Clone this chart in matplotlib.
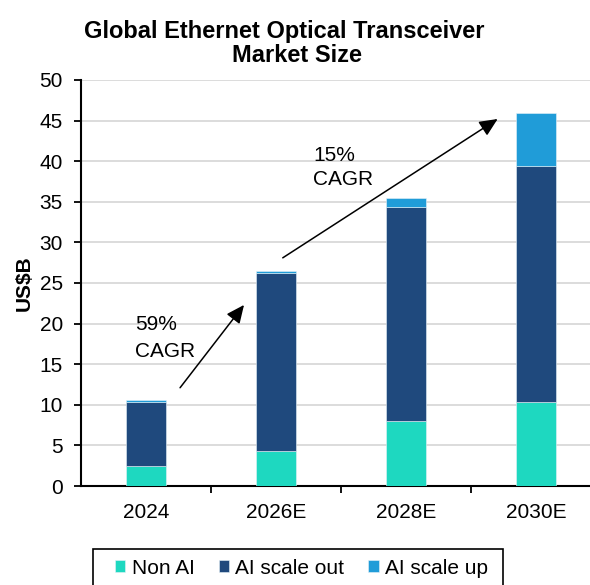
import matplotlib
matplotlib.use("Agg")
import matplotlib.pyplot as plt
from matplotlib.patches import Rectangle
import numpy as np

plt.rcParams['font.family'] = ['Liberation Sans', 'DejaVu Sans']

years = ["2024", "2026E", "2028E", "2030E"]
non_ai = [2.45, 4.3, 7.95, 10.3]
ai_scale_out = [7.85, 21.9, 26.45, 29.15]
ai_scale_up = [0.25, 0.3, 1.1, 6.45]
series_names = ["Non AI", "AI scale out", "AI scale up"]
colors = ["#1ED8C0", "#1F497D", "#209CD8"]

W, H = 590, 585
fig = plt.figure(figsize=(W / 100, H / 100), dpi=100)
ax = fig.add_axes([81 / W, 99 / H, (601 - 81) / W, 406 / H])

x = np.arange(len(years))
bw = 0.315
bottom = np.zeros(len(years))
handles = []
for vals, name, col in zip([non_ai, ai_scale_out, ai_scale_up], series_names, colors):
    b = ax.bar(x, vals, bw, bottom=bottom, color=col, label=name,
               edgecolor="#E6F2F8", linewidth=0.4, zorder=3)
    handles.append(b)
    bottom = bottom + np.array(vals)

ax.set_ylim(0, 50)
ax.set_xlim(-0.5, 3.5)
ax.set_yticks(np.arange(0, 51, 5))
ax.yaxis.grid(True, color="#D9D9D9", linewidth=1.3, zorder=0)
ax.set_axisbelow(True)

ax.set_xticks(x)
ax.set_xticklabels(years)
ax.set_xticks([0.5, 1.5, 2.5], minor=True)
ax.tick_params(axis="x", which="major", length=0, pad=12, labelsize=15)
ax.tick_params(axis="x", which="minor", length=5, width=1.3, direction="out")
ax.tick_params(axis="y", length=5, width=1.3, direction="out", labelsize=15, pad=8)

for s in ["top", "right"]:
    ax.spines[s].set_visible(False)
for s in ["left", "bottom"]:
    ax.spines[s].set_linewidth(1.5)
    ax.spines[s].set_color("black")

ax.set_ylabel("US$B", fontsize=15, fontweight="bold", labelpad=4)

fig.text(284 / W, 1 - 38 / H, "Global Ethernet Optical Transceiver",
         ha="center", va="baseline", fontsize=17, fontweight="bold")
fig.text(297 / W, 1 - 62 / H, "Market Size",
         ha="center", va="baseline", fontsize=17, fontweight="bold")

# growth arrows with CAGR labels
arrow_style = dict(arrowstyle="-|>,head_length=1.1,head_width=0.5",
                   color="black", lw=1.1, shrinkA=0, shrinkB=0)
ax.annotate("", xy=(0.754, 22.3), xytext=(0.262, 12.1), arrowprops=arrow_style)
ax.annotate("", xy=(2.705, 45.2), xytext=(1.052, 28.1), arrowprops=arrow_style)
ax.text(-0.085, 19.2, "59%", fontsize=15, ha="left", va="baseline")
ax.text(-0.085, 15.9, "CAGR", fontsize=15, ha="left", va="baseline")
ax.text(1.285, 40.05, "15%", fontsize=15, ha="left", va="baseline")
ax.text(1.285, 37.05, "CAGR", fontsize=15, ha="left", va="baseline")

# legend with a wide frame running off the bottom edge
fig.patches.append(Rectangle((93 / W, -10 / H), 410 / W, (585 - 549 + 10) / H,
                             transform=fig.transFigure, facecolor="white",
                             edgecolor="black", linewidth=1.2, zorder=1))
leg = fig.legend(handles=handles, labels=series_names, loc="center left",
                 bbox_to_anchor=(115 / W, 1 - 568 / H), ncol=3, fontsize=15,
                 frameon=False, handlelength=0.5, handleheight=0.5,
                 handletextpad=0.3, columnspacing=1.15, borderpad=0,
                 borderaxespad=0)
leg.set_zorder(2)

fig.savefig("out.png", dpi=100)
